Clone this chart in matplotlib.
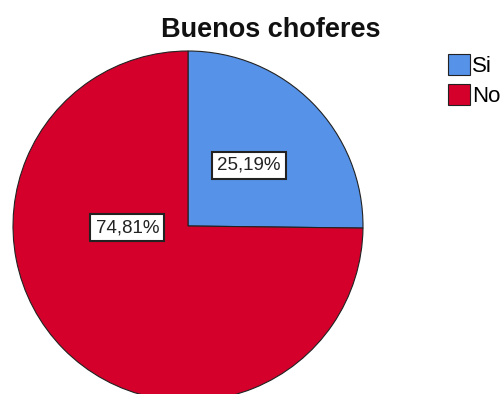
import matplotlib
matplotlib.use("Agg")
import matplotlib.pyplot as plt

categories = ["Si", "No"]
percentages = [25.19, 74.81]
colors = ["#5592E8", "#D4002B"]
title = "Buenos choferes"

plt.rcParams["font.family"] = ["Liberation Sans", "DejaVu Sans"]

W, H = 504, 394
fig = plt.figure(figsize=(W / 100, H / 100), dpi=100)
fig.patch.set_facecolor("white")

# pie occupies a square region whose bottom runs past the figure edge
cx, cy, r = 188, 226, 175
ax = fig.add_axes([(cx - r) / W, (H - cy - r) / H, 2 * r / W, 2 * r / H])
wedges, _ = ax.pie(
    percentages,
    colors=colors,
    startangle=90,
    counterclock=False,
    radius=1.0,
    wedgeprops=dict(edgecolor="#222222", linewidth=0.8),
)
ax.set_xlim(-1, 1)
ax.set_ylim(-1, 1)
ax.set_aspect("equal")
ax.axis("off")

# percentage labels in white boxes
label_pos = [(0.349, 0.346), (-0.346, -0.009)]
for (lx, ly), p in zip(label_pos, percentages):
    ax.text(lx, ly, f"{p:.2f}%".replace(".", ","), ha="center", va="center",
            fontsize=13.5, color="#222222",
            bbox=dict(boxstyle="square,pad=0.28", facecolor="white",
                      edgecolor="#222222", linewidth=1.5))

fig.text(271 / W, 1 - 37 / H, title, ha="center", va="baseline",
         fontsize=19.5, fontweight="bold", color="#111111")

fig.legend(wedges, categories, loc="upper left",
           bbox_to_anchor=(448 / W, 1 - 54 / H), bbox_transform=fig.transFigure,
           frameon=False, handlelength=1.0, handleheight=1.1,
           handletextpad=0.1, labelspacing=0.3, fontsize=16,
           borderaxespad=0, borderpad=0)

fig.savefig("out.png", dpi=100, facecolor="white")
